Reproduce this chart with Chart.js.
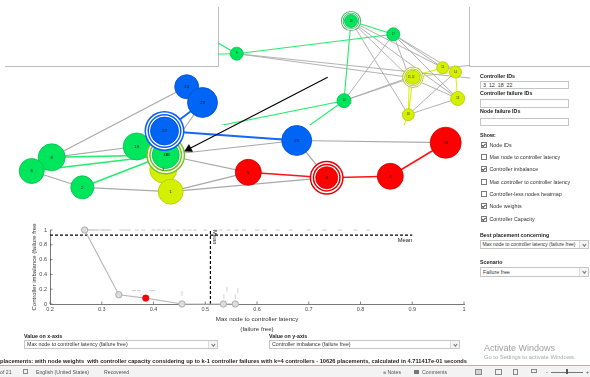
<!DOCTYPE html>
<html>
<head>
<meta charset="utf-8">
<script src="https://cdn.jsdelivr.net/npm/chart.js@4.4.1/dist/chart.umd.min.js"></script>
<style>
  html, body { margin: 0; padding: 0; background: #fff; }
  body { width: 590px; height: 377px; position: relative; overflow: hidden;
         font-family: "Liberation Sans", Arial, sans-serif; color: #222; }
  canvas { position: absolute; }
  .line { position: absolute; background: #bdbdbd; }
  .lbl { position: absolute; font-size: 5.3px; font-weight: bold; line-height: 7px; white-space: nowrap; color: #222; }
  .box { position: absolute; box-sizing: border-box; border: 0.8px solid #c6c6c6; background: #fff;
         font-size: 5.3px; white-space: nowrap; overflow: hidden; padding-left: 2px; color: #333; }
  .sel .chev { position: absolute; right: 0; top: 0; bottom: 0; width: 8px; background: #f4f4f4;
               border-left: 0.8px solid #dcdcdc; }
  .sel .chev::after { content: ''; position: absolute; left: 2.6px; top: 2.2px; width: 1.8px; height: 1.8px;
                      border: solid #777; border-width: 0 0.7px 0.7px 0; transform: rotate(45deg); }
  .cb { position: absolute; left: 481px; font-size: 5.3px; line-height: 6px; white-space: nowrap; color: #333; }
  .chk { display: inline-block; width: 4px; height: 4px; border: 0.7px solid #7a7a7a; margin-right: 2.5px;
         vertical-align: -0.8px; position: relative; background: #fff; }
  .chk.on::after { content: ''; position: absolute; left: 1.2px; top: -0.2px; width: 1.2px; height: 2.5px;
                   border: solid #555; border-width: 0 0.8px 0.8px 0; transform: rotate(45deg); }
  .st { position: absolute; font-size: 5.2px; line-height: 6px; white-space: nowrap; color: #555; top: 368.5px; }
  .ico { position: absolute; border: 0.7px solid #888; box-sizing: border-box; }
</style>
</head>
<body>

<!-- window edges above the graph -->
<div class="line" style="left:5px;top:66px;width:214px;height:1px"></div>
<div class="line" style="left:218px;top:7px;width:1px;height:60px"></div>
<div class="line" style="left:469px;top:7px;width:1px;height:60px"></div>
<div class="line" style="left:469px;top:66px;width:121px;height:1px"></div>

<canvas id="inset" width="252" height="125" style="left:218px;top:0px"></canvas>
<canvas id="graph" width="470" height="215" style="left:0px;top:0px"></canvas>
<canvas id="plot" width="480" height="125" style="left:0px;top:210px"></canvas>

<!-- control panel -->
<div class="lbl" style="left:480px;top:72.5px">Controller IDs</div>
<div class="box" style="left:480px;top:80.5px;width:89px;height:8.5px;line-height:7px">3&nbsp; 12&nbsp; 18&nbsp; 22</div>
<div class="lbl" style="left:480px;top:89.5px">Controller failure IDs</div>
<div class="box" style="left:480px;top:99px;width:89px;height:8.5px"></div>
<div class="lbl" style="left:480px;top:107.5px">Node failure IDs</div>
<div class="box" style="left:480px;top:117.5px;width:89px;height:8.5px"></div>
<div class="lbl" style="left:480px;top:132px">Show:</div>
<div class="cb" style="top:142px"><span class="chk on"></span>Node IDs</div>
<div class="cb" style="top:154.3px"><span class="chk"></span>Max node to controller latency</div>
<div class="cb" style="top:166.3px"><span class="chk on"></span>Controller imbalance</div>
<div class="cb" style="top:179px"><span class="chk"></span>Max controller to controller latency</div>
<div class="cb" style="top:191.3px"><span class="chk"></span>Controller-less nodes heatmap</div>
<div class="cb" style="top:203px"><span class="chk on"></span>Node weights</div>
<div class="cb" style="top:216px"><span class="chk on"></span>Controller Capacity</div>
<div class="lbl" style="left:480px;top:231.5px">Best placement concerning</div>
<div class="box sel" style="left:480px;top:239.5px;width:109px;height:9.5px;line-height:8px;font-size:4.9px;padding-left:1.5px">Max node to controller latency (failure free)<span class="chev"></span></div>
<div class="lbl" style="left:480px;top:259px">Scenario</div>
<div class="box sel" style="left:480px;top:267px;width:109px;height:9.5px;line-height:8px">Failure free<span class="chev"></span></div>

<!-- axis selectors -->
<div class="lbl" style="left:24px;top:332.5px">Value on x-axis</div>
<div class="box sel" style="left:24px;top:340px;width:194px;height:8.5px;line-height:7px">Max node to controller latency (failure free)<span class="chev"></span></div>
<div class="lbl" style="left:269px;top:332.5px">Value on y-axis</div>
<div class="box sel" style="left:269px;top:340px;width:191px;height:8.5px;line-height:7px">Controller imbalance (failure free)<span class="chev"></span></div>

<div style="position:absolute;left:484px;top:343px;font-size:9px;line-height:11px;color:#a0a0a0;white-space:nowrap">Activate Windows</div>
<div style="position:absolute;left:484px;top:354px;font-size:5.8px;line-height:7px;color:#a8a8a8;white-space:nowrap">Go to Settings to activate Windows.</div>

<!-- status lines -->
<div style="position:absolute;left:0;top:358px;font-size:5.7px;font-weight:bold;line-height:7px;white-space:nowrap;color:#1e1e1e">placements: with node weights&nbsp; with controller capacity considering up to k-1 controller failures with k=4 controllers - 10626 placements, calculated in 4.711417e-01 seconds</div>
<div style="position:absolute;left:0;top:365px;width:590px;height:1px;background:#d9a0a8"></div>
<div style="position:absolute;left:0;top:366px;width:590px;height:11px;background:#f3f3f3"></div>
<div class="st" style="left:0">of 21</div>
<div class="ico" style="left:23px;top:369px;width:5px;height:5px"></div>
<div class="st" style="left:36px">English (United States)</div>
<div class="st" style="left:104px">Recovered</div>
<div class="st" style="left:383px">&#8801; Notes</div>
<div class="ico" style="left:414px;top:369.5px;width:5px;height:4px;background:#777;border-color:#777"></div>
<div class="st" style="left:422px">Comments</div>
<div class="ico" style="left:475px;top:368.5px;width:7px;height:6px;background:#d6d6d6"></div>
<div class="ico" style="left:495px;top:368.5px;width:7px;height:6px"></div>
<div class="ico" style="left:513px;top:368.5px;width:5px;height:6px"></div>
<div class="ico" style="left:531px;top:369px;width:6px;height:4px"></div>
<div class="st" style="left:546px">-</div>
<div style="position:absolute;left:551px;top:371.5px;width:32px;height:0.8px;background:#777"></div>
<div style="position:absolute;left:566px;top:369px;width:1.5px;height:5px;background:#555"></div>
<div class="st" style="left:586px">+</div>

<script>
// ---------------- network: main view (layout units = pixels of the view) ----------------
const controllerIds = ['3', '12', '18', '22'];

const mainIds    = ['24', '23', '21', '20', '19', '8', '6', '2', '5', '4', '3', '7', '1', '16', '18', '22'];
const mainX      = [186.7, 202.5, 296.7, 445.7, 136.7, 51.7, 31.7, 82.3, 248.3, 390.3, 326.7, 163.3, 170.7, 167.4, 165.7, 164.5];
const mainY      = [86.7, 102.5, 140.5, 142.7, 146.5, 157.3, 171, 187.3, 172.3, 176.3, 177.7, 169.5, 191.7, 155.2, 155, 131];
const mainWeight = [12, 15, 15, 15.5, 13.5, 13.5, 12.5, 11.5, 13, 13, 11, 13.5, 12.5, 13, 13.5, 14];
const mainGroup  = ['blue', 'blue', 'blue', 'red', 'green', 'green', 'green', 'green', 'red', 'red', 'red',
                    'yellow', 'yellow', 'green', 'green', 'blue'];
const mainEdgeFrom = ['24', '23', '8', '6', '2', '1', '1', '18', '18', '21', '21', '8', '6', '2', '22', '22', '5', '3', '4'];
const mainEdgeTo   = ['8', '18', '19', '2', '1', '5', '3', '5', '21', '20', '3', '18', '18', '18', '23', '21', '3', '4', '20'];
const mainEdgeKind = ['gray', 'gray', 'gray', 'gray', 'gray', 'gray', 'gray', 'gray', 'gray', 'gray', 'gray',
                      'green', 'green', 'green', 'blue', 'blue', 'red', 'red', 'red'];

// pointer annotation (tail, head)
const arrowX = [327.7, 188.7];
const arrowY = [77.3, 149.1];

// ---------------- network: inset view (nodes with weight 0 lie outside the crop) ----------------
const insetIds    = ['9', '18', '17', '10', '11', '12', '15', '14', '13', '16', '8', '19', '20', '23', '5', '22', '21'];
const insetX      = [236.7, 351, 393.3, 344, 409.3, 413, 442.7, 455.5, 457.7, 408.3, 180, 180, 500, 500, 393.6, 200, 275];
const insetY      = [53.7, 21, 34.3, 100.7, 77.3, 77.3, 67.7, 72, 98.5, 114.7, 21.3, 54.6, 81.2, 63, 150, 129.6, 150];
const insetWeight = [6.5, 6.5, 6.5, 7, 6.5, 7, 6, 6, 7, 6, 0, 0, 0, 0, 0, 0, 0];
const insetGroup  = ['green', 'green', 'green', 'green', 'yellow', 'yellow', 'yellow', 'yellow', 'yellow', 'yellow',
                     'green', 'green', 'red', 'blue', 'red', 'blue', 'blue'];
const insetEdgeFrom = ['9', '9', '9', '9', '9', '18', '18', '18', '18', '18', '18', '17', '17', '17', '17', '17',
                       '10', '10', '10', '10', '11', '12', '11', '12', '14', '16', '16', '11', '15', '16'];
const insetEdgeTo   = ['17', '11', '20', '8', '19', '17', '10', '11', '15', '13', '16', '10', '11', '15', '14', '13',
                       '11', '12', '22', '21', '15', '14', '16', '16', '13', '13', '14', '13', '23', '5'];
const insetEdgeKind = ['green', 'gray', 'gray', 'green', 'green', 'green', 'green', 'gray', 'gray', 'gray', 'gray',
                       'gray', 'gray', 'gray', 'gray', 'gray', 'gray', 'gray', 'green', 'green',
                       'yellow', 'yellow', 'yellow', 'yellow', 'yellow', 'gray', 'gray', 'gray', 'gray', 'yellow'];

// ---------------- Pareto plot ----------------
const paretoLatency   = [0.267, 0.333, 0.385, 0.455, 0.535, 0.558];
const paretoImbalance = [1.0, 0.125, 0.08, 0.0, 0.0, 0.0];
const bestLatency   = [0.385];
const bestImbalance = [0.08];
const meanLatency   = 0.51;
const meanImbalance = 0.93;
const otherLatency   = [0.272, 0.276, 0.28, 0.284, 0.288, 0.292, 0.3, 0.305, 0.31, 0.315, 0.338, 0.345, 0.352, 0.368,
                        0.38, 0.4, 0.41, 0.42, 0.43, 0.447, 0.46, 0.47, 0.48, 0.5, 0.52, 0.53, 0.545, 0.56, 0.575,
                        0.6, 0.615, 0.64, 0.665, 0.7, 0.73, 0.76, 0.79, 0.815, 0.362, 0.372, 0.395, 0.4];
const otherImbalance = [1, 1, 1, 1, 1, 1, 1, 1, 1, 1, 1, 1, 1, 1, 1, 1, 1, 1, 1, 1, 1, 1, 1, 1, 1, 1, 1, 1, 1,
                        1, 1, 1, 1, 1, 1, 1, 1, 1, 0.18, 0.18, 0.18, 0.18];
const tagLatency   = [0.455, 0.536, 0.542, 0.558, 0.563];
const tagImbalance = [0.14, 0.1, 0.2, 0.1, 0.18];

const xTicksMin = 0.2, xTicksMax = 1, xStep = 0.1;
const yTicksMin = 0, yTicksMax = 1, yStep = 0.2;

// ---------------- styling ----------------
const FONT = '"Liberation Sans", Arial, sans-serif';
Chart.defaults.font.family = FONT;
Chart.defaults.animation = false;
Chart.defaults.events = [];
Chart.defaults.plugins.legend.display = false;
Chart.defaults.plugins.tooltip.enabled = false;

const palette = {
  green:  { fill: '#00e65c', edge: '#00bf4b', line: '#22ee6c', ring: '#72c21e' },
  blue:   { fill: '#0064f5', edge: '#0050c8', line: '#1466ff', ring: '#0a5ef0' },
  red:    { fill: '#ff0000', edge: '#d00000', line: '#ff1414', ring: '#e00000' },
  yellow: { fill: '#d4f000', edge: '#b2cc00', line: '#d8f000', ring: '#b8cc10' },
  gray:   { line: '#a9a9a9' }
};
const insetRing = { green: '#3fae5c', yellow: '#b4c81a' };
const edgeWidth = { gray: 1.2, green: 1.5, blue: 1.9, red: 1.6, yellow: 1.4 };

function edgeDatasets(ids, xs, ys, from, to, kind, scale) {
  return from.map((f, k) => {
    const a = ids.indexOf(f), b = ids.indexOf(to[k]);
    return {
      type: 'line',
      data: [{ x: xs[a], y: ys[a] }, { x: xs[b], y: ys[b] }],
      borderColor: palette[kind[k]].line,
      borderWidth: edgeWidth[kind[k]] * scale,
      pointRadius: 0,
      order: 20
    };
  });
}

function nodeDataset(ids, xs, ys, ws, groups, gap, labelSize, ringColors) {
  const pts = [], bg = [], bd = [], bw = [], labels = [];
  ids.forEach((id, i) => {
    if (!ws[i]) return;
    const c = palette[groups[i]];
    if (controllerIds.includes(id)) {
      const rc = (ringColors && ringColors[groups[i]]) || c.ring;
      [[4 * gap, rc], [3 * gap, '#ffffff'], [2 * gap, rc], [gap, '#ffffff']].forEach(([d, col]) => {
        pts.push({ x: xs[i], y: ys[i], r: ws[i] + d });
        bg.push(col); bd.push(col); bw.push(0); labels.push('');
      });
    }
    pts.push({ x: xs[i], y: ys[i], r: ws[i] });
    bg.push(c.fill); bd.push(c.edge); bw.push(0.8); labels.push(id);
  });
  return {
    type: 'bubble', data: pts, backgroundColor: bg, borderColor: bd, borderWidth: bw,
    nodeLabels: labels, labelSize: labelSize, order: 5, clip: false
  };
}

const nodeLabelPlugin = {
  id: 'nodeLabels',
  afterDatasetsDraw(chart) {
    const ctx = chart.ctx;
    chart.data.datasets.forEach((ds, di) => {
      if (!ds.nodeLabels) return;
      const meta = chart.getDatasetMeta(di);
      ctx.save();
      ctx.fillStyle = '#1b1b1b';
      ctx.textAlign = 'center';
      ctx.textBaseline = 'middle';
      ctx.font = ds.labelSize + 'px ' + FONT;
      meta.data.forEach((el, i) => { if (ds.nodeLabels[i]) ctx.fillText(ds.nodeLabels[i], el.x, el.y); });
      ctx.restore();
    });
  }
};

function viewScales(x0, x1, y0, y1) {
  return {
    x: { type: 'linear', min: x0, max: x1, display: false },
    y: { type: 'linear', min: y0, max: y1, reverse: true, display: false }
  };
}

// inset view
new Chart(document.getElementById('inset'), {
  type: 'bubble',
  data: {
    datasets: [
      nodeDataset(insetIds, insetX, insetY, insetWeight, insetGroup, 0.9, 2.6, insetRing),
      ...edgeDatasets(insetIds, insetX, insetY, insetEdgeFrom, insetEdgeTo, insetEdgeKind, 0.75)
    ]
  },
  options: { responsive: false, layout: { padding: 0, autoPadding: false }, scales: viewScales(218, 470, 0, 125) },
  plugins: [nodeLabelPlugin]
});

// main view
new Chart(document.getElementById('graph'), {
  type: 'bubble',
  data: {
    datasets: [
      {
        type: 'line',
        data: [{ x: arrowX[0], y: arrowY[0] }, { x: arrowX[1], y: arrowY[1] }],
        borderColor: '#000', borderWidth: 1.1,
        pointRadius: [0, 4.6], pointStyle: 'triangle', pointRotation: [0, 242.7],
        pointBackgroundColor: '#000', pointBorderColor: '#000', pointBorderWidth: 0.5,
        order: 0, clip: false
      },
      nodeDataset(mainIds, mainX, mainY, mainWeight, mainGroup, 1.5, 4.4),
      ...edgeDatasets(mainIds, mainX, mainY, mainEdgeFrom, mainEdgeTo, mainEdgeKind, 1)
    ]
  },
  options: { responsive: false, layout: { padding: 0, autoPadding: false }, scales: viewScales(0, 470, 0, 215) },
  plugins: [nodeLabelPlugin]
});

// ---------------- Pareto plot ----------------
const zip = (xs, ys) => xs.map((v, i) => ({ x: v, y: ys[i] }));
const fmt = v => String(Math.round(v * 10) / 10);

const plotDecor = {
  id: 'plotDecor',
  afterDatasetsDraw(chart) {
    const { ctx, scales: { x, y } } = chart;
    ctx.save();
    // inward tick marks
    ctx.strokeStyle = '#555';
    ctx.lineWidth = 0.7;
    x.ticks.forEach(t => {
      const px = x.getPixelForValue(t.value);
      ctx.beginPath(); ctx.moveTo(px, y.bottom); ctx.lineTo(px, y.bottom - 2.5); ctx.stroke();
    });
    y.ticks.forEach(t => {
      const py = y.getPixelForValue(t.value);
      ctx.beginPath(); ctx.moveTo(x.left, py); ctx.lineTo(x.left + 2.5, py); ctx.stroke();
    });
    // mean labels
    ctx.fillStyle = '#222';
    ctx.font = '5.8px ' + FONT;
    ctx.textBaseline = 'middle';
    ctx.textAlign = 'right';
    ctx.fillText('Mean', x.getPixelForValue(0.9), y.getPixelForValue(meanImbalance - 0.065));
    ctx.translate(x.getPixelForValue(meanLatency) + 4, y.getPixelForValue(1));
    ctx.rotate(Math.PI / 2);
    ctx.textAlign = 'left';
    ctx.fillText('Mean', 0, 0);
    ctx.restore();
  }
};

new Chart(document.getElementById('plot'), {
  type: 'scatter',
  data: {
    datasets: [
      {
        data: zip(bestLatency, bestImbalance),
        pointRadius: 3.4, pointBackgroundColor: '#ff0000', pointBorderColor: '#ff0000', pointBorderWidth: 0,
        order: 0
      },
      {
        type: 'line',
        data: zip(paretoLatency, paretoImbalance),
        borderColor: '#b9b9b9', borderWidth: 1.2,
        pointRadius: 3.2, pointBackgroundColor: '#dcdcdc', pointBorderColor: '#a8a8a8', pointBorderWidth: 0.9,
        order: 1, clip: false
      },
      {
        data: zip(otherLatency, otherImbalance),
        pointStyle: 'line', pointRadius: 2, pointBorderColor: '#c6c6c6', pointBorderWidth: 0.9,
        order: 3, clip: false
      },
      {
        data: zip(tagLatency, tagImbalance),
        pointStyle: 'line', pointRotation: 90, pointRadius: 2.5, pointBorderColor: '#c8c8c8', pointBorderWidth: 0.8,
        order: 3, clip: false
      },
      {
        type: 'line',
        data: [{ x: 0.2, y: meanImbalance }, { x: 0.9, y: meanImbalance }],
        borderColor: '#000', borderWidth: 1.2, borderDash: [3, 2], pointRadius: 0, order: 2
      },
      {
        type: 'line',
        data: [{ x: meanLatency, y: 0 }, { x: meanLatency, y: 1 }],
        borderColor: '#000', borderWidth: 1.2, borderDash: [3, 2], pointRadius: 0, order: 2, clip: false
      }
    ]
  },
  options: {
    responsive: false,
    layout: { padding: { left: 31, right: 16, top: 20, bottom: 1 }, autoPadding: false },
    scales: {
      x: {
        type: 'linear', min: xTicksMin, max: xTicksMax,
        afterFit: s => { s.height = 30; },
        grid: { display: false, drawTicks: false },
        border: { display: true, color: '#555', width: 0.8 },
        ticks: { stepSize: xStep, callback: fmt, maxRotation: 0, autoSkip: false, padding: 2,
                 color: '#4a4a4a', font: { size: 5.5 } },
        title: { display: true, text: ['Max node to controller latency', '(failure free)'],
                 color: '#333', font: { size: 6.2, lineHeight: 1.6 }, padding: 0 }
      },
      y: {
        type: 'linear', min: yTicksMin, max: yTicksMax,
        afterFit: s => { s.width = 19; },
        grid: { display: false, drawTicks: false },
        border: { display: true, color: '#555', width: 0.8 },
        ticks: { stepSize: yStep, callback: fmt, padding: 3, color: '#4a4a4a', font: { size: 5.5 } },
        title: { display: true, text: 'Controller imbalance (failure free', color: '#333',
                 font: { size: 6 }, padding: 0 }
      }
    }
  },
  plugins: [plotDecor]
});
</script>
</body>
</html>
